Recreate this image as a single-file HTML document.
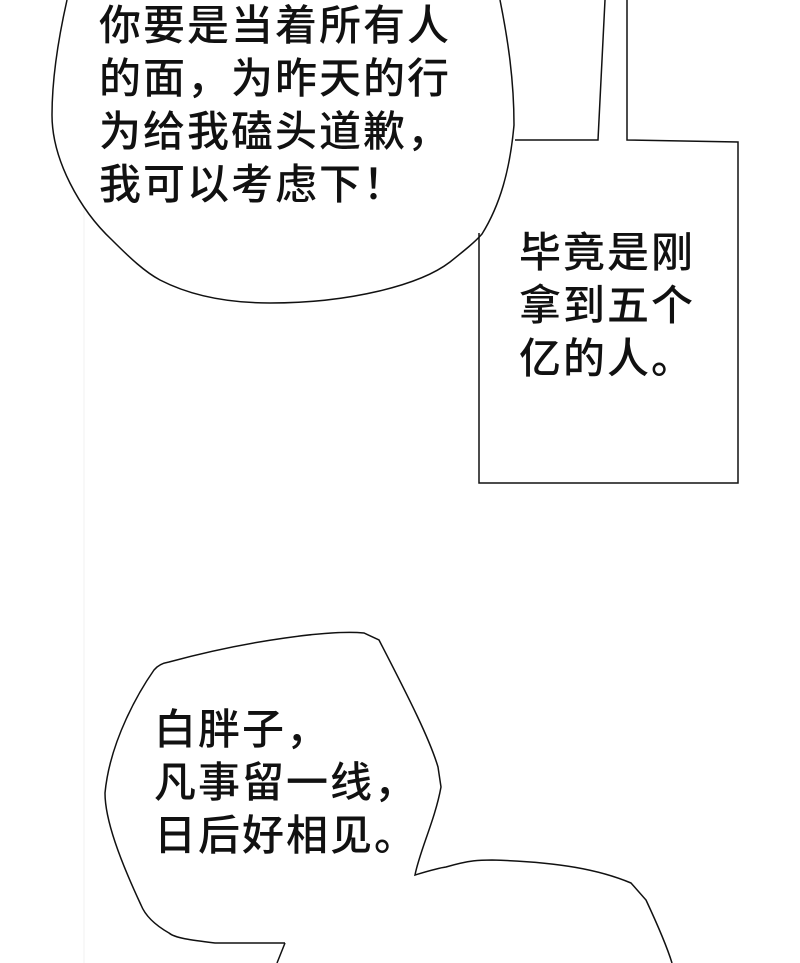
<!DOCTYPE html>
<html><head><meta charset="utf-8"><style>
html,body{margin:0;padding:0;background:#fff;}
.w{position:relative;width:800px;height:963px;overflow:hidden;background:#fff;}
svg{position:absolute;left:0;top:0;}
.t{position:absolute;font-family:"Liberation Sans","Noto Sans CJK SC",sans-serif;font-size:42px;font-weight:500;line-height:53px;letter-spacing:2px;color:#111;white-space:nowrap;}
</style></head><body><div class="w">
<svg width="800" height="963" viewBox="0 0 800 963">
<line x1="84" y1="0" x2="84" y2="963" stroke="#f2f2f2" stroke-width="1"/>
<path d="M67,0 C58,40 52,80 52,115 C52,160 80,210 112,240 C130,258 145,272 160,280 C195,298 235,303 270,303 C350,303 420,285 450,262 C465,250 475,242 482,234 C500,205 510,170 514,125 C514,80 508,40 500,0" fill="#fff" stroke="#111" stroke-width="1.5"/>
<path d="M515,140 L598,140 L605,0 M627,0 L627,140 L738,142 L738,483 L479,483 L479,233" fill="none" stroke="#111" stroke-width="1.5"/>
<path d="M285,943 L277,963 M285,943 L215,943 C190,940 175,938 169,933 C155,925 145,915 141,905 C120,860 105,820 105,793 C110,740 140,690 154,670 C158,665 163,663 169,662 C250,640 330,630 364,633 L379,640 C410,700 430,740 438,767 L441,787 C435,820 420,850 415,875 C425,872 438,868 446,867 C470,860 480,860 492,860 C560,862 600,870 631,883 L646,900 C660,930 668,950 672,963" fill="#fff" stroke="#111" stroke-width="1.5"/>
</svg>
<div class="t" style="left:99px;top:-1px;">你要是当着所有人<br>的面，为昨天的行<br>为给我磕头道歉，<br>我可以考虑下！</div>
<div class="t" style="left:519px;top:226px;">毕竟是刚<br>拿到五个<br>亿的人。</div>
<div class="t" style="left:154px;top:703px;">白胖子，<br>凡事留一线，<br>日后好相见。</div>
</div></body></html>
